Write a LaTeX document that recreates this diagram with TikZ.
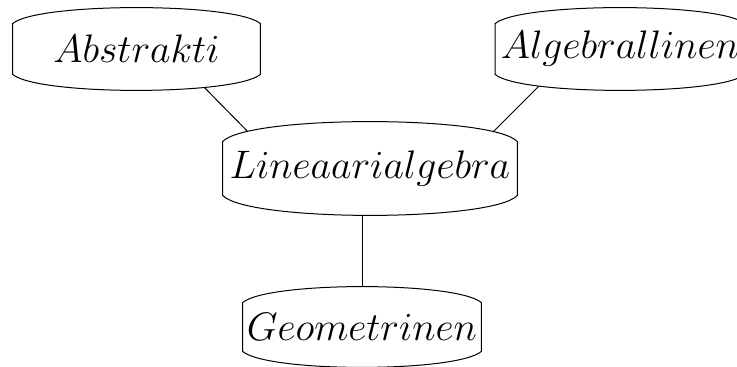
\RequirePackage{fix-cm}
\documentclass[tikz,border=0pt]{standalone}
\usetikzlibrary{calc}
\pgfdeclarelayer{background}
\pgfdeclarelayer{middle}
\pgfsetlayers{background,middle,main}
\tikzset{
  topic/.style={rectangle, draw=none, inner sep=0pt,
    font=\fontsize{19.9}{24}\selectfont},
  link/.style={draw=black, line width=0.5pt},
  barrel/.style={draw=black, fill=white, line width=0.5pt}
}
% barrel outline around a node: straight sides, bulging top and bottom
% #1 = node name, #2 = depth of the bulge
\newcommand\barrelaround[2]{%
  \path[barrel]
    ($(#1.north west)+(0,#2)$)
      .. controls ($(#1.north west)+(25,{-#2/3})$) and ($(#1.north east)+(-25,{-#2/3})$)
      .. ($(#1.north east)+(0,#2)$)
    -- ($(#1.south east)+(0,-#2)$)
      .. controls ($(#1.south east)+(-25,{#2/3})$) and ($(#1.south west)+(25,{#2/3})$)
      .. ($(#1.south west)+(0,-#2)$)
    -- cycle;}
\begin{document}
\begin{tikzpicture}[x=0.5pt, y=-0.5pt]
  \useasboundingbox (0,0) rectangle (737,367);

  \node[topic, minimum width=123.5pt, minimum height=41pt] (abs) at (136.5,49) {$Abstrakti$};
  \node[topic, minimum width=124.5pt, minimum height=41pt] (alg) at (620,49) {$Algebrallinen$};
  \node[topic, minimum width=147pt, minimum height=46.5pt] (lin) at (370,168.5) {$Lineaarialgebra$};
  \node[topic, minimum width=119pt, minimum height=40pt] (geo) at (362,327) {$Geometrinen$};

  \begin{pgfonlayer}{middle}
    \barrelaround{abs}{16}
    \barrelaround{alg}{16}
    \barrelaround{lin}{20}
    \barrelaround{geo}{16}
  \end{pgfonlayer}

  \begin{pgfonlayer}{background}
    \draw[link] ($(abs.center)+(61.5,32)$) -- ($(lin.center)+(-114,-28.5)$);
    \draw[link] ($(alg.center)+(-74,30)$) -- ($(lin.center)+(115,-28.5)$);
    \draw[link] (geo.north |- lin.south) -- (geo.north);
  \end{pgfonlayer}
\end{tikzpicture}
\end{document}
